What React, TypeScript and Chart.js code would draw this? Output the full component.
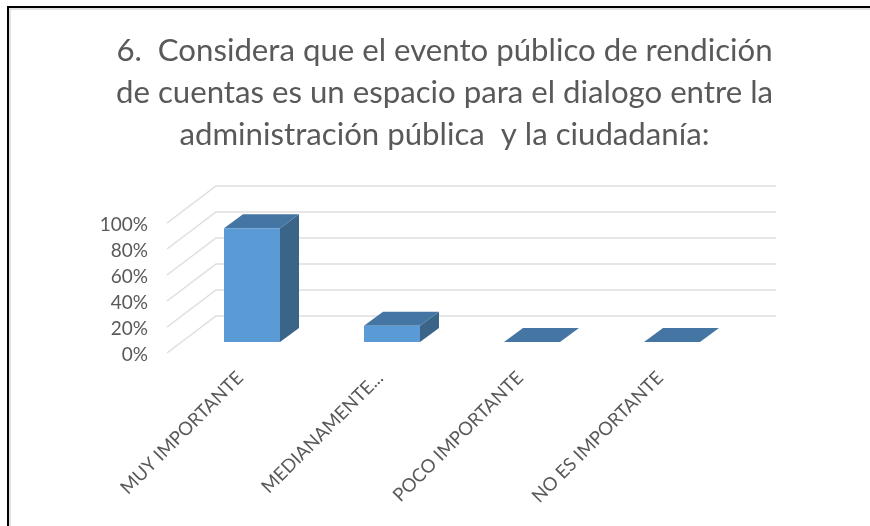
import React, { useEffect, useRef } from "react";
import { Chart, registerables } from "chart.js";

Chart.register(...registerables);

const categories = ["MUY IMPORTANTE", "MEDIANAMENTE...", "POCO IMPORTANTE", "NO ES IMPORTANTE"];
const values = [87.5, 12.5, 0, 0];
const yTicks = [0, 20, 40, 60, 80, 100];
const titleLines = [
  "6.  Considera que el evento público de rendición",
  "de cuentas es un espacio para el dialogo entre la",
  "administración pública  y la ciudadanía:",
];

const FONT = "Lato, 'Noto Sans', sans-serif";
const TEXT = "#595959";
const FRONT = "#5B9BD5";
const TOP = "#4575A2";
const SIDE = "#3A6488";
const GRID = "#DEDEDE";

const WALL_DX = 49;
const WALL_DY = -37;
const BAR_OFF_X = 15;
const BAR_OFF_Y = -11;
const BAR_DX = 19;
const BAR_DY = -14;

const framePlugin = {
  id: "frame",
  beforeDraw(chart: any) {
    const { ctx, width, height } = chart;
    ctx.save();
    ctx.fillStyle = "#E2E2E2";
    ctx.fillRect(9, 8, width - 9, 2);
    ctx.fillRect(9, 8, 2, height - 8);
    ctx.fillStyle = "#000000";
    ctx.fillRect(7, 6, width - 7, 2);
    ctx.fillRect(7, 6, 2, height - 6);
    ctx.restore();
  },
};

const wallPlugin = {
  id: "wall",
  beforeDatasetsDraw(chart: any) {
    const { ctx, chartArea, scales } = chart;
    ctx.save();
    ctx.strokeStyle = GRID;
    ctx.lineWidth = 1.5;
    for (const t of yTicks) {
      const y = scales.y.getPixelForValue(t);
      ctx.beginPath();
      ctx.moveTo(chartArea.left, y);
      ctx.lineTo(chartArea.left + WALL_DX, y + WALL_DY);
      ctx.lineTo(chartArea.right + WALL_DX, y + WALL_DY);
      ctx.stroke();
    }
    ctx.restore();
  },
};

const bar3dPlugin = {
  id: "bar3d",
  beforeDatasetDraw(chart: any, args: any) {
    const { ctx } = chart;
    const meta = chart.getDatasetMeta(args.index);
    ctx.save();
    ctx.translate(BAR_OFF_X, BAR_OFF_Y);
    for (const el of meta.data) {
      const p = el.getProps(["x", "y", "base", "width"], true);
      const l = p.x - p.width / 2;
      const r = p.x + p.width / 2;
      ctx.fillStyle = SIDE;
      ctx.beginPath();
      ctx.moveTo(r, p.base);
      ctx.lineTo(r + BAR_DX, p.base + BAR_DY);
      ctx.lineTo(r + BAR_DX, p.y + BAR_DY);
      ctx.lineTo(r, p.y);
      ctx.closePath();
      ctx.fill();
      ctx.fillStyle = TOP;
      ctx.beginPath();
      ctx.moveTo(l, p.y);
      ctx.lineTo(l + BAR_DX, p.y + BAR_DY);
      ctx.lineTo(r + BAR_DX, p.y + BAR_DY);
      ctx.lineTo(r, p.y);
      ctx.closePath();
      ctx.fill();
    }
  },
  afterDatasetDraw(chart: any) {
    chart.ctx.restore();
  },
};

export default function App() {
  const ref = useRef<HTMLCanvasElement>(null);
  useEffect(() => {
    const chart = new Chart(ref.current!, {
      type: "bar",
      data: {
        labels: categories,
        datasets: [
          {
            data: values,
            backgroundColor: FRONT,
            borderWidth: 0,
            barPercentage: 0.4,
            categoryPercentage: 1,
          },
        ],
      },
      plugins: [framePlugin, wallPlugin, bar3dPlugin],
      options: {
        responsive: false,
        animation: false,
        layout: { padding: { left: 90, right: 71, top: 30, bottom: 0 } },
        plugins: {
          legend: { display: false },
          tooltip: { enabled: false },
          title: {
            display: true,
            text: titleLines,
            color: TEXT,
            font: { family: FONT, size: 31.2, weight: "normal", lineHeight: 1.346 },
            padding: { top: 0, bottom: 67 },
          },
        },
        scales: {
          x: {
            grid: { display: false },
            border: { display: false },
            ticks: {
              color: TEXT,
              font: { family: FONT, size: 18.5 },
              minRotation: 45,
              maxRotation: 45,
              autoSkip: false,
              padding: 6,
              labelOffset: 3,
            },
            afterFit(scale: any) {
              scale.height = 526 - 353;
            },
          },
          y: {
            min: 0,
            max: 100,
            grid: { display: false },
            border: { display: false },
            afterBuildTicks(scale: any) {
              scale.ticks = yTicks.map((value) => ({ value }));
            },
            ticks: {
              color: TEXT,
              font: { family: FONT, size: 19 },
              padding: 11,
              labelOffset: 1.5,
              callback: (v: any) => `${v}%`,
            },
            afterFit(scale: any) {
              scale.width = 167 - 90;
            },
          },
          rightSpacer: {
            type: "linear",
            position: "right",
            grid: { display: false },
            border: { display: false },
            ticks: { display: false },
            afterFit(scale: any) {
              scale.width = 870 - 71 - 727;
            },
          },
        },
      },
    } as any);
    return () => chart.destroy();
  }, []);
  return (
    <div style={{ position: "absolute", left: 0, top: 0, width: 870, height: 526, overflow: "hidden", background: "#fff" }}>
      <canvas ref={ref} width={870} height={526} style={{ display: "block" }} />
    </div>
  );
}
